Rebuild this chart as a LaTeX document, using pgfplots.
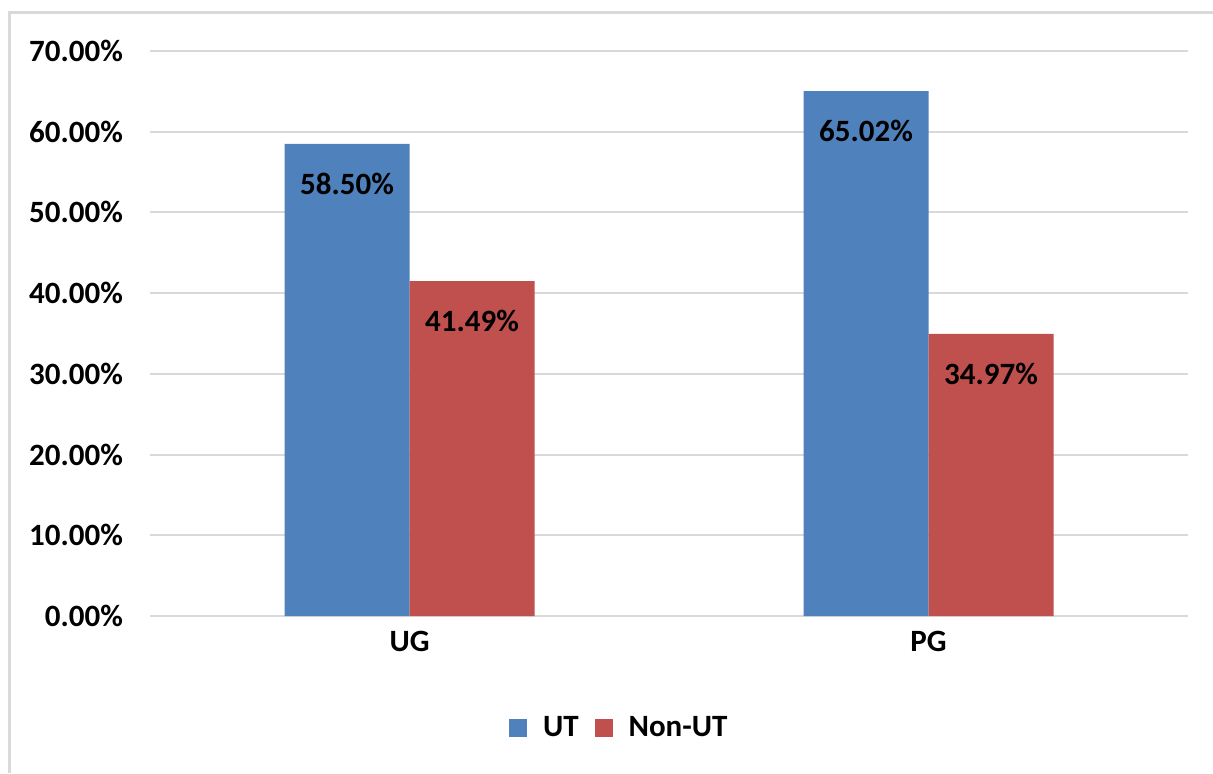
\documentclass[border=0pt]{standalone}
\usepackage{fontspec}
\setmainfont{Carlito}
\usepackage{pgfplots}
\pgfplotsset{compat=1.18}
\definecolor{ubl}{HTML}{4F81BD}
\definecolor{ure}{HTML}{C0504D}
\definecolor{grd}{HTML}{D9D9D9}
\begin{document}
\begin{tikzpicture}
\path[use as bounding box] (0pt,0pt) rectangle (606.5pt,386.5pt);
\fill[white] (0pt,0pt) rectangle (606.5pt,386.5pt);
\draw[grd, line width=1.5pt] (4.75pt,0pt) -- (4.75pt,380.25pt) -- (606.5pt,380.25pt);
\begin{axis}[
  at={(75pt,78.5pt)}, anchor=south west,
  scale only axis, width=519pt, height=282.5pt,
  ybar=0pt, bar width=62.5pt,
  xmin=-0.5, xmax=1.5, ymin=0, ymax=70,
  xtick={0,1}, xticklabels={UG,PG},
  ytick={0,10,...,70},
  yticklabel={\pgfmathprintnumber[fixed,fixed zerofill,precision=2]{\tick}\%},
  /pgf/number format/assume math mode=true,
  font=\fontsize{15.5}{18}\selectfont\bfseries,
  ymajorgrids, grid style={grd, line width=1pt},
  axis x line*=bottom, axis y line*=left,
  x axis line style={grd, line width=1pt},
  y axis line style={draw=none},
  major tick length=0pt,
  yticklabel style={anchor=east, xshift=-10pt},
  xticklabel style={anchor=north, yshift=-4pt},
  nodes near coords={\pgfmathprintnumber[fixed,fixed zerofill,precision=2]{\pgfplotspointmeta}\%},
  nodes near coords style={anchor=north, yshift=-11pt, font=\fontsize{15.5}{18}\selectfont\bfseries, /pgf/number format/assume math mode=true},
  legend style={draw=none, at={(0.453,-0.198)}, anchor=center, legend columns=2,
    font=\fontsize{15.5}{18}\selectfont\bfseries, column sep=6pt},
  legend image code/.code={\fill[#1] (0pt,-4.5pt) rectangle (9pt,4.5pt);},
  clip=false,
]
\addplot[fill=ubl, draw=none] coordinates {(0,58.50) (1,65.02)};
\addplot[fill=ure, draw=none] coordinates {(0,41.49) (1,34.97)};
\legend{UT,Non-UT}
\end{axis}
\end{tikzpicture}
\end{document}
